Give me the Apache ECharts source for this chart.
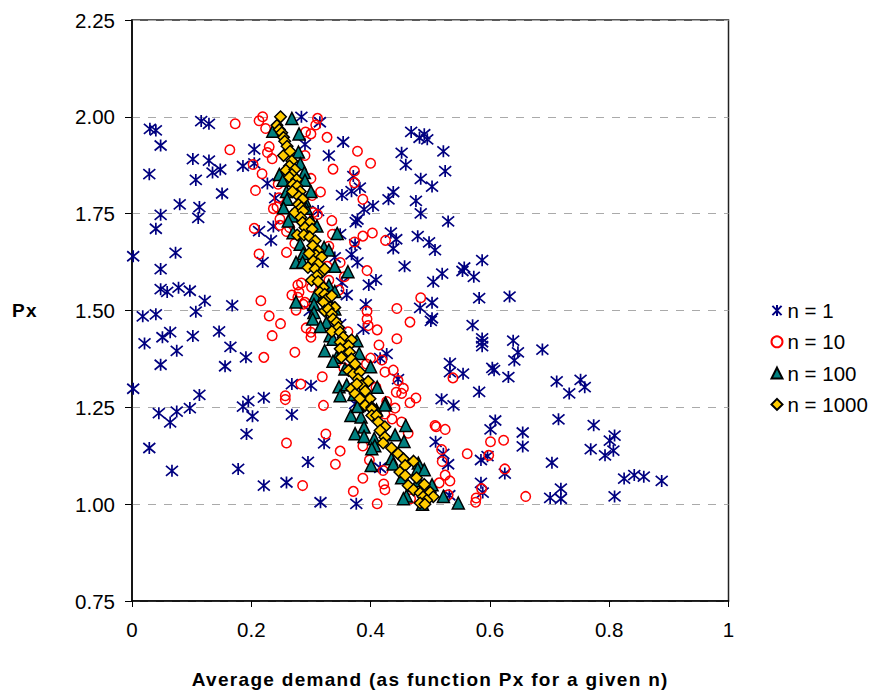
<!DOCTYPE html>
<html><head><meta charset="utf-8">
<style>html,body{margin:0;padding:0;background:#fff}#c{width:872px;height:694px}
text[style*="bold"]{letter-spacing:1.3px}</style>
<script src="https://cdn.jsdelivr.net/npm/echarts@6/dist/echarts.min.js"></script></head>
<body><div id="c"></div>
<script>
const xTickMin=0, xTickMax=1, xTickStep=0.2;
const yTickMin=0.75, yTickMax=2.25, yTickStep=0.25;
const seriesNames=["n = 1","n = 10","n = 100","n = 1000"];
const n1=[[.030,1.969],[.040,1.965],[.048,1.926],[.116,1.989],[.129,1.982],[.284,2.000],[.315,1.986],[.354,1.935],[.330,1.900],[.205,1.916],[.452,1.907],[.468,1.961],[.482,1.946],[.490,1.955],[.495,1.942],[.290,1.929],[.102,1.891],[.129,1.887],[.148,1.864],[.135,1.856],[.186,1.873],[.205,1.880],[.029,1.852],[.107,1.837],[.227,1.828],[.151,1.802],[.080,1.774],[.113,1.767],[.048,1.747],[.111,1.739],[.040,1.711],[.002,1.640],[.073,1.649],[.048,1.607],[.219,1.625],[.048,1.555],[.059,1.548],[.078,1.559],[.097,1.551],[.122,1.525],[.168,1.513],[.107,1.497],[.240,1.790],[.352,1.798],[.368,1.808],[.382,1.817],[.371,1.847],[.438,1.806],[.430,1.787],[.404,1.770],[.389,1.761],[.378,1.735],[.375,1.728],[.476,1.783],[.484,1.751],[.459,1.876],[.484,1.840],[.312,1.757],[.434,1.701],[.443,1.684],[.438,1.660],[.479,1.692],[.457,1.614],[.498,1.676],[.237,1.717],[.213,1.705],[.233,1.681],[.349,1.697],[.374,1.671],[.368,1.645],[.378,1.624],[.340,1.637],[.409,1.579],[.397,1.566],[.352,1.572],[.360,1.540],[.392,1.516],[.483,1.507],[.505,1.574],
[.503,1.820],[.525,1.860],[.522,1.911],[.530,1.730],[.508,1.656],[.587,1.630],[.557,1.611],[.554,1.602],[.573,1.587],[.520,1.595],[.582,1.532],[.633,1.536],[.503,1.520],[.503,1.480],[.501,1.473],
[.018,1.485],[.040,1.490],[.021,1.415],[.051,1.431],[.064,1.444],[.102,1.434],[.146,1.446],[.075,1.396],[.165,1.406],[.191,1.379],[.048,1.360],[.156,1.356],[.002,1.298],[.113,1.282],[.268,1.310],[.300,1.306],[.045,1.235],[.075,1.239],[.097,1.248],[.186,1.252],[.195,1.266],[.221,1.275],[.202,1.227],[.268,1.231],[.064,1.211],[.192,1.181],[.029,1.145],[.067,1.086],[.178,1.091],[.221,1.048],[.259,1.056],[.316,1.005],[.376,1.001],[.322,1.157],[.295,1.109],[.416,1.094],[.427,1.388],[.416,1.377],[.446,1.323],[.388,1.452],[.298,1.499],[.349,1.465],[.374,1.259],
[.571,1.462],[.587,1.428],[.587,1.418],[.587,1.408],[.639,1.422],[.688,1.399],[.647,1.392],[.641,1.371],[.533,1.364],[.533,1.341],[.555,1.337],[.604,1.352],[.607,1.346],[.631,1.328],[.712,1.317],[.733,1.286],[.752,1.321],[.759,1.302],[.582,1.290],[.519,1.271],[.539,1.255],[.609,1.216],[.601,1.193],[.655,1.185],[.655,1.149],[.715,1.219],[.774,1.204],[.769,1.142],[.809,1.177],[.801,1.164],[.807,1.138],[.793,1.126],[.509,1.161],[.522,1.130],[.530,1.103],[.585,1.114],[.596,1.124],[.704,1.107],[.625,1.079],[.825,1.066],[.842,1.075],[.858,1.071],[.888,1.060],[.719,1.040],[.701,1.016],[.719,1.014],[.809,1.020],[.585,1.055],[.588,1.030],[.532,1.023]];
const n10=[[.219,2.000],[.213,1.990],[.224,1.970],[.173,1.982],[.311,1.996],[.308,1.979],[.291,1.961],[.300,1.956],[.327,1.947],[.164,1.915],[.230,1.923],[.227,1.908],[.235,1.892],[.203,1.877],[.218,1.853],[.290,1.900],[.337,1.865],[.378,1.911],[.400,1.880],[.373,1.860],[.373,1.830],[.300,1.841],[.245,1.826],[.207,1.810],[.316,1.806],[.302,1.797],[.246,1.791],[.387,1.787],[.237,1.763],[.243,1.767],[.311,1.748],[.304,1.753],[.335,1.732],[.248,1.736],[.248,1.720],[.264,1.714],[.259,1.704],[.205,1.712],[.403,1.700],[.387,1.692],[.425,1.681],[.373,1.677],[.336,1.697],[.273,1.673],[.330,1.666],[.213,1.646],[.259,1.650],[.349,1.624],[.327,1.614],[.394,1.603],[.356,1.587],[.330,1.578],[.347,1.553],[.484,1.533],[.284,1.571],[.278,1.566],[.301,1.560],[.280,1.547],[.268,1.540],[.278,1.534],[.216,1.525],[.290,1.521],[.394,1.498],[.444,1.505],[.275,1.501],[.287,1.516],[.230,1.486],[.249,1.466],[.235,1.435],[.292,1.455],[.300,1.444],[.300,1.431],[.273,1.392],[.221,1.379],[.394,1.478],[.396,1.461],[.411,1.450],[.466,1.470],[.444,1.427],[.414,1.411],[.362,1.445],[.400,1.377],[.393,1.362],[.419,1.372],[.355,1.352],[.424,1.341],[.438,1.346],[.446,1.319],[.319,1.329],[.283,1.310],[.409,1.302],[.455,1.299],[.443,1.289],[.452,1.286],[.476,1.274],[.466,1.262],[.257,1.280],[.257,1.270],[.321,1.255],[.427,1.265],[.441,1.248],[.424,1.233],[.436,1.220],[.452,1.212],[.463,1.183],[.325,1.181],[.259,1.158],[.387,1.150],[.349,1.137],[.398,1.114],[.341,1.103],[.421,1.087],[.387,1.067],[.422,1.052],[.424,1.037],[.286,1.048],[.371,1.033],[.411,1.001],[.467,1.014],[.508,1.203],[.510,1.200],[.525,1.193],[.538,1.326],[.519,1.141],[.520,1.110],[.562,1.130],[.601,1.161],[.623,1.165],[.598,1.126],[.625,1.091],[.525,1.075],[.533,1.060],[.515,1.055],[.586,1.040],[.577,1.016],[.576,1.005],[.660,1.020],[.530,1.024]];
const n100=[[.268,1.996],[.236,1.963],[.280,1.956],[.279,1.909],[.282,1.879],[.289,1.856],[.247,1.851],[.290,1.836],[.253,1.836],[.300,1.807],[.259,1.807],[.260,1.787],[.290,1.783],[.254,1.765],[.292,1.764],[.268,1.744],[.262,1.731],[.301,1.731],[.310,1.718],[.344,1.699],[.270,1.701],[.282,1.671],[.287,1.647],[.322,1.663],[.330,1.656],[.275,1.624],[.286,1.625],[.340,1.614],[.362,1.600],[.330,1.565],[.340,1.549],[.307,1.538],[.275,1.522],[.305,1.516],[.336,1.508],[.321,1.538],[.305,1.495],[.303,1.478],[.326,1.469],[.316,1.459],[.340,1.504],[.377,1.422],[.323,1.396],[.381,1.389],[.343,1.379],[.337,1.369],[.332,1.435],[.337,1.426],[.400,1.355],[.357,1.349],[.347,1.303],[.360,1.308],[.349,1.280],[.411,1.302],[.425,1.261],[.372,1.283],[.379,1.255],[.410,1.243],[.367,1.229],[.384,1.225],[.389,1.199],[.374,1.182],[.389,1.175],[.459,1.203],[.441,1.179],[.406,1.169],[.456,1.162],[.407,1.151],[.402,1.143],[.378,1.252],[.424,1.256],[.435,1.117],[.438,1.104],[.401,1.100],[.480,1.106],[.479,1.091],[.490,1.089],[.452,1.068],[.503,1.050],[.460,1.021],[.455,1.014],[.522,1.020],[.547,1.003],[.487,1.000],[.480,1.061]];
const n1000=[[.249,2.000],[.243,1.978],[.247,1.967],[.251,1.959],[.254,1.947],[.256,1.937],[.260,1.924],[.254,1.900],[.265,1.911],[.268,1.886],[.264,1.873],[.258,1.862],[.273,1.864],[.268,1.851],[.264,1.844],[.276,1.838],[.270,1.826],[.277,1.821],[.282,1.807],[.276,1.800],[.269,1.807],[.286,1.787],[.279,1.774],[.284,1.766],[.273,1.753],[.287,1.757],[.283,1.740],[.286,1.727],[.298,1.727],[.290,1.714],[.302,1.710],[.277,1.695],[.288,1.695],[.298,1.690],[.307,1.680],[.303,1.667],[.312,1.654],[.308,1.643],[.297,1.647],[.318,1.638],[.304,1.628],[.312,1.620],[.295,1.611],[.307,1.607],[.318,1.598],[.323,1.607],[.310,1.589],[.301,1.578],[.312,1.575],[.321,1.559],[.315,1.547],[.323,1.542],[.326,1.529],[.335,1.538],[.321,1.521],[.332,1.508],[.340,1.508],[.323,1.499],[.329,1.504],[.335,1.491],[.337,1.478],[.343,1.469],[.346,1.456],[.335,1.446],[.349,1.444],[.354,1.431],[.349,1.418],[.368,1.424],[.363,1.409],[.349,1.401],[.365,1.392],[.351,1.379],[.368,1.375],[.374,1.362],[.363,1.345],[.371,1.336],[.382,1.341],[.379,1.323],[.396,1.317],[.368,1.298],[.385,1.306],[.374,1.285],[.391,1.292],[.399,1.272],[.382,1.272],[.391,1.255],[.402,1.250],[.377,1.310],[.402,1.246],[.402,1.229],[.410,1.229],[.413,1.212],[.424,1.200],[.416,1.190],[.424,1.173],[.421,1.158],[.435,1.145],[.446,1.130],[.455,1.117],[.458,1.100],[.472,1.111],[.449,1.083],[.458,1.074],[.477,1.068],[.463,1.048],[.490,1.051],[.472,1.037],[.483,1.029],[.500,1.031],[.488,1.019],[.505,1.019],[.494,1.010],[.483,1.003],[.491,1.000]];

const textFont='"Liberation Sans", Arial, sans-serif';
const chart=echarts.init(document.getElementById('c'),null,{renderer:'svg'});
chart.setOption({
  animation:false,
  backgroundColor:'#fff',
  grid:{left:132,right:143.5,top:20,bottom:91.7,show:true,borderColor:'#222',borderWidth:1.5,backgroundColor:'transparent'},
  legend:{orient:'vertical',left:764,top:295,itemWidth:11,itemHeight:11,itemGap:10.3,selectedMode:false,
    data:seriesNames,textStyle:{fontFamily:textFont,fontSize:20.5,color:'#000'}},
  xAxis:{type:'value',min:xTickMin,max:xTickMax,interval:xTickStep,
    name:'Average demand (as function Px for a given n)',nameLocation:'middle',nameGap:69,
    nameTextStyle:{fontFamily:textFont,fontWeight:'bold',fontSize:19,color:'#000'},
    axisLine:{show:true,lineStyle:{color:'#000',width:1.5}},
    axisTick:{show:true,length:6,lineStyle:{color:'#000',width:1}},
    axisLabel:{fontFamily:textFont,fontSize:20.5,color:'#000',margin:18,formatter:v=>String(+v.toFixed(1))},
    splitLine:{show:false}},
  yAxis:{type:'value',min:yTickMin,max:yTickMax,interval:yTickStep,
    name:'Px',nameLocation:'middle',nameRotate:0,nameGap:107,
    nameTextStyle:{fontFamily:textFont,fontWeight:'bold',fontSize:19,color:'#000',align:'center'},
    axisLine:{show:true,lineStyle:{color:'#000',width:1.5}},
    axisTick:{show:true,length:7,lineStyle:{color:'#000',width:1}},
    axisLabel:{fontFamily:textFont,fontSize:20.5,color:'#000',margin:17,formatter:v=>v.toFixed(2)},
    splitLine:{show:true,lineStyle:{color:'#aaa',width:1,type:[8,8]}}},
  series:[
    {name:seriesNames[0],type:'scatter',data:n1,symbol:'path://M0,0L10,10M10,0L0,10M5,-1L5,11',symbolSize:12,
     itemStyle:{color:'none',borderColor:'#000080',borderWidth:1.7,opacity:1}},
    {name:seriesNames[1],type:'scatter',data:n10,symbol:'circle',symbolSize:9.5,
     itemStyle:{color:'none',borderColor:'#ff0000',borderWidth:1.5,opacity:1}},
    {name:seriesNames[2],type:'scatter',data:n100,symbol:'triangle',symbolSize:12,
     itemStyle:{color:'#008080',borderColor:'#000',borderWidth:1.5,opacity:1}},
    {name:seriesNames[3],type:'scatter',data:n1000,symbol:'diamond',symbolSize:11.5,
     itemStyle:{color:'#ffcc00',borderColor:'#000',borderWidth:1.5,opacity:1}}
  ]
});
</script></body></html>
